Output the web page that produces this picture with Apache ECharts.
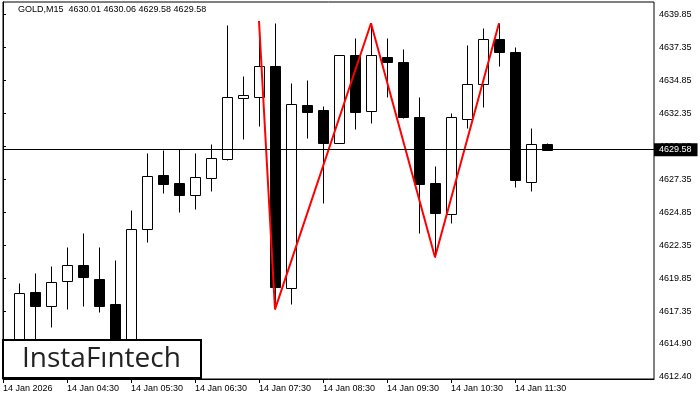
<!DOCTYPE html>
<html>
<head>
<meta charset="utf-8">
<script src="https://cdn.jsdelivr.net/npm/echarts@6/dist/echarts.min.js"></script>
<style>html,body{margin:0;padding:0;background:#fff;}#c{width:700px;height:400px;}</style>
</head>
<body>
<div id="c"></div>
<script>
// ---- data (GOLD, M15, 14 Jan 2026, bars from 03:30 to 12:00) ----
const opens  = [4614.30,4614.80,4618.79,4617.77,4619.62,4620.85,4619.79,4617.90,4614.30,4623.56,4627.69,4627.08,4626.13,4627.42,4628.85,4633.47,4633.55,4635.91,4619.09,4632.96,4632.58,4630.06,4636.72,4632.49,4636.60,4636.22,4632.05,4627.06,4624.69,4631.88,4634.53,4637.94,4636.95,4627.16,4630.01];
const highs  = [4618.20,4619.47,4620.23,4620.78,4622.22,4623.30,4622.22,4621.23,4625.02,4629.33,4629.58,4629.60,4629.33,4630.01,4639.02,4635.16,4639.32,4639.15,4634.63,4634.85,4632.89,4636.72,4638.06,4639.15,4638.06,4637.20,4633.57,4628.35,4632.36,4637.53,4638.79,4639.15,4637.35,4631.24,4630.06];
const lows   = [4613.60,4614.40,4614.60,4616.18,4617.55,4617.77,4617.27,4613.60,4613.80,4622.62,4626.33,4624.89,4625.11,4626.48,4628.80,4630.41,4631.37,4617.50,4617.92,4630.49,4625.57,4630.06,4631.17,4631.62,4633.59,4632.00,4623.25,4621.44,4624.05,4631.24,4632.83,4635.94,4626.78,4626.48,4629.58];
const closes = [4614.80,4618.71,4617.77,4619.54,4620.83,4619.97,4617.77,4614.20,4623.56,4627.59,4627.01,4626.17,4627.51,4628.93,4633.55,4633.70,4635.91,4619.21,4633.02,4632.46,4630.11,4636.72,4632.46,4636.72,4636.24,4632.08,4627.01,4624.77,4632.03,4634.53,4637.94,4636.95,4627.26,4630.01,4629.58];

// pattern (red zig-zag): bar index and price of each vertex
const patternIdx   = [16, 17, 23, 27, 31];
const patternPrice = [4639.32, 4617.50, 4639.15, 4621.44, 4639.15];

// axis labels
const timeLabelIdx = [0, 4, 8, 12, 16, 20, 24, 28, 32];
const timeLabels   = ['14 Jan 2026','14 Jan 04:30','14 Jan 05:30','14 Jan 06:30','14 Jan 07:30','14 Jan 08:30','14 Jan 09:30','14 Jan 10:30','14 Jan 11:30'];
const priceTicks   = [4612.40,4614.90,4617.35,4619.85,4622.35,4624.85,4627.35,4629.85,4632.35,4634.85,4637.35,4639.85];

const lastPrice = 4629.58;
const titleText = 'GOLD,M15  4630.01 4630.06 4629.58 4629.58';

// ---- chart ----
const candleData = opens.map((o, i) => [i, o, closes[i], lows[i], highs[i]]);
const patternData = patternIdx.map((x, k) => [x, patternPrice[k]]);

const FONT = 'Liberation Sans, Arial, sans-serif';
const chart = echarts.init(document.getElementById('c'), null, {renderer: 'canvas'});

chart.setOption({
  animation: false,
  backgroundColor: '#fff',
  title: {
    text: titleText,
    left: 18, top: 5, padding: 0,
    textStyle: {fontFamily: FONT, fontSize: 9, fontWeight: 'normal', color: '#000'}
  },
  grid: {
    left: 3, right: 46, top: 2, bottom: 21,
    show: true, borderColor: '#000', borderWidth: 1, backgroundColor: '#fff'
  },
  xAxis: {
    type: 'value',
    min: 0, max: 40.6875,
    splitLine: {show: false},
    axisLine: {show: true, lineStyle: {color: '#000', width: 1}},
    axisTick: {show: true, length: 4, lineStyle: {color: '#000'}, customValues: timeLabelIdx},
    axisLabel: {
      customValues: timeLabelIdx,
      formatter: v => timeLabels[timeLabelIdx.indexOf(Math.round(v))] || '',
      align: 'left', margin: 5,
      fontFamily: FONT, fontSize: 9, color: '#000'
    }
  },
  yAxis: {
    type: 'value',
    position: 'right',
    min: 4612.23, max: 4640.76,
    scale: true,
    splitLine: {show: false},
    axisLine: {show: true, lineStyle: {color: '#000', width: 1}},
    axisTick: {show: true, length: 3, lineStyle: {color: '#000'}, customValues: priceTicks},
    axisLabel: {
      customValues: priceTicks,
      formatter: v => v.toFixed(2),
      margin: 5,
      fontFamily: FONT, fontSize: 9, color: '#000'
    }
  },
  series: [
    {
      type: 'custom',
      name: 'GOLD',
      clip: true,
      z: 2,
      encode: {x: 0, y: [1, 2, 3, 4]},
      data: candleData,
      renderItem: function (params, api) {
        const i = api.value(0), o = api.value(1), c = api.value(2), l = api.value(3), h = api.value(4);
        const pO = api.coord([i, o]), pC = api.coord([i, c]);
        const pL = api.coord([i, l]), pH = api.coord([i, h]);
        const cx = Math.round(pO[0]) + 0.5;
        const yTop = Math.round(Math.min(pO[1], pC[1])) + 0.5;
        let yBot = Math.round(Math.max(pO[1], pC[1])) + 0.5;
        if (yBot - yTop < 1) yBot = yTop + 1;
        const bull = c >= o;
        return {
          type: 'group',
          children: [
            {type: 'line', shape: {x1: cx, y1: Math.round(pH[1]) + 0.5, x2: cx, y2: Math.round(pL[1]) + 0.5},
             style: {stroke: '#000', lineWidth: 1}},
            {type: 'rect', shape: {x: cx - 5, y: yTop, width: 10, height: yBot - yTop},
             style: {fill: bull ? '#fff' : '#000', stroke: '#000', lineWidth: 1}}
          ]
        };
      }
    },
    {
      type: 'line',
      name: 'price',
      data: [],
      z: 3,
      silent: true,
      markLine: {
        silent: true,
        symbol: ['none', 'none'],
        lineStyle: {color: '#000', width: 1, type: 'solid'},
        label: {
          show: true, position: 'end', distance: 0,
          formatter: () => lastPrice.toFixed(2),
          backgroundColor: '#000', color: '#fff',
          padding: [2, 6, 2, 5],
          fontFamily: FONT, fontSize: 9
        },
        data: [{yAxis: lastPrice}]
      }
    },
    {
      type: 'line',
      name: 'pattern',
      data: patternData,
      z: 4,
      symbol: 'none',
      silent: true,
      lineStyle: {color: '#ff0000', width: 2}
    }
  ],
  graphic: {
    z: 100,
    zlevel: 0,
    elements: [
      {type: 'rect', z: 100, shape: {x: 3, y: 340, width: 198, height: 38},
       style: {fill: '#fff', stroke: '#000', lineWidth: 2}},
      {type: 'text', z: 101, x: 22, y: 359,
       style: {text: 'InstaF\u0131ntech', font: '28px "Open Sans", sans-serif', fill: '#222',
               textAlign: 'left', textVerticalAlign: 'middle', align: 'left', verticalAlign: 'middle'}}
    ]
  }
});
</script>
</body>
</html>
